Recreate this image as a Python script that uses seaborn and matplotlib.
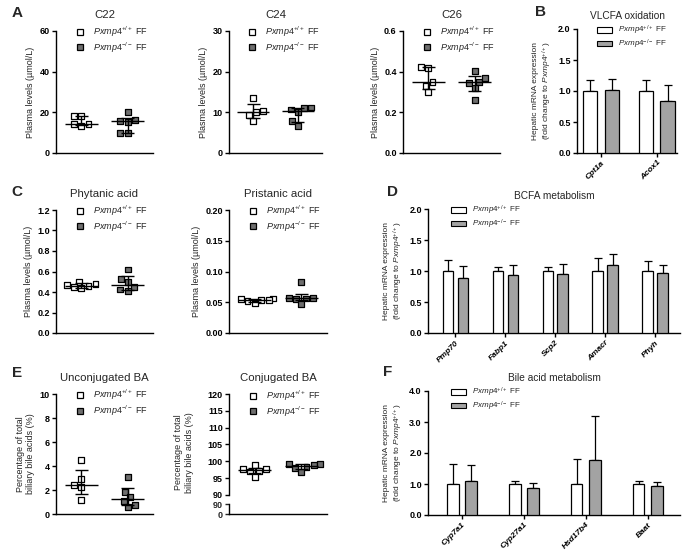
import numpy as np
import pandas as pd
import matplotlib
matplotlib.use("Agg")
import matplotlib.pyplot as plt
import seaborn as sns
from matplotlib.lines import Line2D
from matplotlib.patches import Patch
from matplotlib.ticker import FormatStrFormatter

# genotypes
groups = ["WT", "KO"]
wt_label = r"$\it{Pxmp4}^{+/+}$ FF"
ko_label = r"$\it{Pxmp4}^{-/-}$ FF"

# A - plasma VLCFA (umol/L)
c22_wt = [18.4, 18.4, 14.1, 14.1, 13.1]
c22_ko = [16.4, 20.0, 15.7, 15.4, 10.0, 10.0]
c24_wt = [13.5, 10.4, 10.0, 9.3, 7.9]
c24_ko = [11.0, 10.7, 10.0, 11.2, 7.9, 6.7]
c26_wt = [0.424, 0.420, 0.348, 0.331, 0.298]
c26_ko = [0.349, 0.405, 0.367, 0.321, 0.261, 0.345]

# C - plasma BCFA (umol/L)
phytanic_wt = [0.50, 0.48, 0.465, 0.455, 0.445, 0.435]
phytanic_ko = [0.62, 0.53, 0.50, 0.445, 0.425, 0.41]
pristanic_wt = [0.056, 0.0555, 0.054, 0.053, 0.0515, 0.048]
pristanic_ko = [0.0565, 0.056, 0.083, 0.0565, 0.055, 0.047]

# E - biliary bile acids (% of total)
unconj_wt = [4.5, 2.9, 2.4, 2.25, 1.15]
unconj_ko = [3.05, 1.85, 1.1, 1.4, 0.75, 0.6]
conj_wt = [97.7, 98.8, 97.0, 97.1, 97.8, 95.4]
conj_ko = [98.9, 99.1, 98.4, 99.1, 97.9, 96.9]

# B, D, F - hepatic mRNA expression (mean, SD)
vlcfa_genes = ["Cpt1a", "Acox1"]
vlcfa_wt = [1.0, 1.0]
vlcfa_wt_sd = [0.18, 0.18]
vlcfa_ko = [1.02, 0.84]
vlcfa_ko_sd = [0.18, 0.25]

bcfa_genes = ["Pmp70", "Fabp1", "Scp2", "Amacr", "Phyh"]
bcfa_wt = [1.0, 1.0, 1.0, 1.0, 1.0]
bcfa_wt_sd = [0.18, 0.07, 0.07, 0.21, 0.16]
bcfa_ko = [0.88, 0.93, 0.95, 1.10, 0.97]
bcfa_ko_sd = [0.20, 0.16, 0.16, 0.18, 0.13]

ba_genes = ["Cyp7a1", "Cyp27a1", "Hsd17b4", "Baat"]
ba_wt = [1.0, 1.0, 1.0, 1.0]
ba_wt_sd = [0.63, 0.09, 0.80, 0.10]
ba_ko = [1.11, 0.87, 1.76, 0.93]
ba_ko_sd = [0.51, 0.15, 1.43, 0.15]

scatter_pal = {"WT": "white", "KO": "#6e6e6e"}
bar_pal = {"WT": "white", "KO": "#a3a3a3"}

sns.set_theme(style="ticks")
plt.rcParams["font.family"] = ["Liberation Sans", "DejaVu Sans"]
plt.rcParams["mathtext.fontset"] = "custom"
plt.rcParams["mathtext.rm"] = "Liberation Sans"
plt.rcParams["mathtext.it"] = "Liberation Sans:italic"
plt.rcParams["mathtext.bf"] = "Liberation Sans:bold"
plt.rcParams["axes.linewidth"] = 1.0
plt.rcParams["xtick.major.width"] = 1.0
plt.rcParams["ytick.major.width"] = 1.0
plt.rcParams["xtick.major.size"] = 3
plt.rcParams["ytick.major.size"] = 3
plt.rcParams["xtick.major.pad"] = 1.5
plt.rcParams["ytick.major.pad"] = 1.5
plt.rcParams["axes.edgecolor"] = "black"

W, H = 685, 551
fig = plt.figure(figsize=(W / 100, H / 100), dpi=100)


def box(x0, y0, x1, y1):
    # pixel box -> figure fraction
    return [x0 / W, 1 - y1 / H, (x1 - x0) / W, (y1 - y0) / H]


def style_axis(ax, ylim, yticks, fmt, ylabel, title, title_size, pad):
    sns.despine(ax=ax)
    ax.set_ylim(*ylim)
    ax.set_yticks(yticks)
    ax.yaxis.set_major_formatter(FormatStrFormatter(fmt))
    for t in ax.get_yticklabels():
        t.set_fontsize(6.5)
        t.set_fontweight("bold")
    ax.set_ylabel(ylabel, fontsize=6.5, labelpad=3)
    ax.set_xlabel("")
    ax.set_title(title, fontsize=title_size, pad=pad)
    ax.tick_params(colors="black")


def scatter_panel(ax, wt, ko, title, ylim, yticks, fmt, ylabel):
    df = pd.DataFrame({"group": ["WT"] * len(wt) + ["KO"] * len(ko),
                       "value": wt + ko})
    sns.swarmplot(data=df, x="group", y="value", hue="group", order=groups,
                  hue_order=groups, palette=scatter_pal, marker="s", size=4.2,
                  linewidth=0.9, edgecolor="black", legend=False, ax=ax, zorder=3)
    # median with interquartile range
    for i, vals in enumerate([wt, ko]):
        med = np.median(vals)
        q1, q3 = np.percentile(vals, [25, 75], method="weibull")
        ax.hlines(med, i - 0.36, i + 0.36, color="black", lw=1.0, zorder=4)
        ax.vlines(i, q1, q3, color="black", lw=1.0, zorder=4)
        ax.hlines([q1, q3], i - 0.14, i + 0.14, color="black", lw=1.0, zorder=4)
    ax.set_xlim(-0.55, 1.55)
    ax.set_xticks([])
    style_axis(ax, ylim, yticks, fmt, ylabel, title, 8.2, 9.5)
    handles = [Line2D([], [], marker="s", ls="none", mfc=scatter_pal[g], mec="black",
                      ms=4.3, mew=0.9) for g in groups]
    ax.legend(handles, [wt_label, ko_label], loc="upper left", bbox_to_anchor=(0.2, 1.05),
              frameon=False, fontsize=6.5, handlelength=1.0, handletextpad=0.9,
              labelspacing=0.1, borderpad=0, borderaxespad=0)


def bar_panel(ax, genes, wt, wt_sd, ko, ko_sd, title, ylim, yticks, width, gap, xlim, leg_x):
    df = pd.DataFrame({"gene": genes * 2,
                       "group": ["WT"] * len(genes) + ["KO"] * len(genes),
                       "value": wt + ko})
    sns.barplot(data=df, x="gene", y="value", hue="group", order=genes, hue_order=groups,
                palette=bar_pal, edgecolor="black", linewidth=0.9, width=width, gap=gap,
                errorbar=None, legend=False, ax=ax, zorder=3)
    # mean + SD, upper whisker only
    for cont, sd in zip(ax.containers, [wt_sd, ko_sd]):
        for bar, e in zip(cont, sd):
            ax.errorbar(bar.get_x() + bar.get_width() / 2, bar.get_height(),
                        yerr=[[0], [e]], fmt="none", ecolor="black", elinewidth=0.9,
                        capsize=2.8, capthick=0.9, zorder=2)
    ax.set_xlim(*xlim)
    style_axis(ax, ylim, yticks, "%.1f", "Hepatic mRNA expression\n(fold change to $\\it{Pxmp4}^{+/+}$)",
               title, 7.3, 7.5)
    ax.yaxis.label.set_fontsize(6)
    ax.set_xticks(range(len(genes)))
    ax.set_xticklabels(genes, rotation=45, ha="right", rotation_mode="anchor",
                       fontsize=6, fontstyle="italic", fontweight="bold")
    handles = [Patch(fc=bar_pal[g], ec="black", lw=0.8) for g in groups]
    ax.legend(handles, [wt_label, ko_label], loc="upper left", bbox_to_anchor=(leg_x, 1.04),
              frameon=False, fontsize=5.8, handlelength=1.9, handleheight=0.6,
              handletextpad=0.7, labelspacing=0.05, borderpad=0, borderaxespad=0)


plasma = "Plasma levels (\u00b5mol/L)"
biliary = "Percentage of total\nbiliary bile acids (%)"

# row A / B
ax = fig.add_axes(box(56, 31, 153, 153))
scatter_panel(ax, c22_wt, c22_ko, "C22", (0, 60), [0, 20, 40, 60], "%d", plasma)
ax = fig.add_axes(box(229, 31, 322, 153))
scatter_panel(ax, c24_wt, c24_ko, "C24", (0, 30), [0, 10, 20, 30], "%d", plasma)
ax = fig.add_axes(box(403, 31, 500, 153))
scatter_panel(ax, c26_wt, c26_ko, "C26", (0, 0.6), [0, 0.2, 0.4, 0.6], "%.1f", plasma)
ax = fig.add_axes(box(577, 29, 677, 153))
bar_panel(ax, vlcfa_genes, vlcfa_wt, vlcfa_wt_sd, vlcfa_ko, vlcfa_ko_sd, "VLCFA oxidation",
          (0, 2.0), [0, 0.5, 1.0, 1.5, 2.0], 0.77, 0.33, (-0.43, 1.36), 0.2)

# row C / D
ax = fig.add_axes(box(56, 210, 153, 333))
scatter_panel(ax, phytanic_wt, phytanic_ko, "Phytanic acid", (0, 1.2),
              [0, 0.2, 0.4, 0.6, 0.8, 1.0, 1.2], "%.1f", plasma)
ax = fig.add_axes(box(229, 210, 327, 333))
scatter_panel(ax, pristanic_wt, pristanic_ko, "Pristanic acid", (0, 0.2),
              [0, 0.05, 0.10, 0.15, 0.20], "%.2f", plasma)
ax = fig.add_axes(box(428, 209, 680, 333))
bar_panel(ax, bcfa_genes, bcfa_wt, bcfa_wt_sd, bcfa_ko, bcfa_ko_sd, "BCFA metabolism",
          (0, 2.0), [0, 0.5, 1.0, 1.5, 2.0], 0.6, 0.3, (-0.55, 4.5), 0.09)

# row E / F
ax = fig.add_axes(box(56, 394, 153, 514))
scatter_panel(ax, unconj_wt, unconj_ko, "Unconjugated BA", (0, 10),
              [0, 2, 4, 6, 8, 10], "%d", biliary)

ax = fig.add_axes(box(229, 394, 327, 495))
scatter_panel(ax, conj_wt, conj_ko, "Conjugated BA", (90, 120),
              [90, 95, 100, 105, 110, 115, 120], "%d", biliary)
ax.spines["bottom"].set_visible(False)
ax.yaxis.set_label_coords(-0.36, 0.42)
low = fig.add_axes(box(229, 504, 327, 514))
sns.despine(ax=low)
low.set_ylim(0, 90)
low.set_yticks([0, 90])
low.set_xticks([])
for t in low.get_yticklabels():
    t.set_fontsize(6.5)
    t.set_fontweight("bold")

ax = fig.add_axes(box(428, 391, 680, 515))
bar_panel(ax, ba_genes, ba_wt, ba_wt_sd, ba_ko, ba_ko_sd, "Bile acid metabolism",
          (0, 4.0), [0, 1.0, 2.0, 3.0, 4.0], 0.6, 0.37, (-0.55, 3.52), 0.09)

# panel letters
for letter, x, y in [("A", 17, 13), ("B", 540, 12), ("C", 17, 192),
                     ("D", 393, 192), ("E", 17, 373), ("F", 388, 372)]:
    fig.text(x / W, 1 - y / H, letter, fontsize=11, fontweight="bold",
             ha="center", va="center")

fig.savefig("out.png", dpi=100)
